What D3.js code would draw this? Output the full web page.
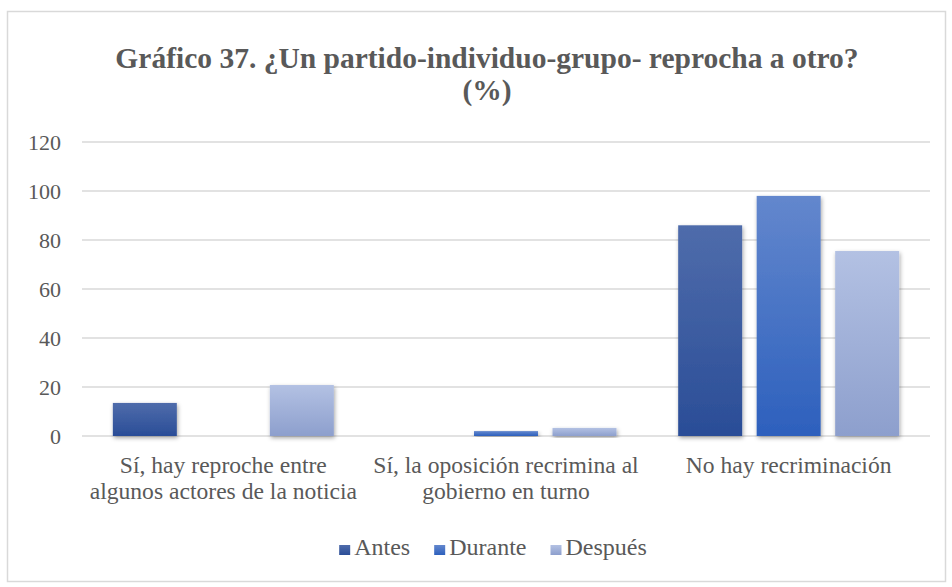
<!DOCTYPE html>
<html>
<head>
<meta charset="utf-8">
<script src="https://cdn.jsdelivr.net/npm/d3@7"></script>
<style>
  html, body { margin: 0; padding: 0; background: #fff; }
  svg { display: block; }
</style>
</head>
<body>
<svg id="chart" width="952" height="587"></svg>
<script>
// Chart data
const categories = [
  "Sí, hay reproche entre\nalgunos actores de la noticia",
  "Sí, la oposición recrimina al\ngobierno en turno",
  "No hay recriminación"
];
const seriesNames = ["Antes", "Durante", "Después"];
const antes = [13.5, 0, 86];
const durante = [0, 2, 98];
const despues = [20.8, 3.3, 75.5];
const yTicks = [0, 20, 40, 60, 80, 100, 120];
const titleLines = ["Gráfico 37. ¿Un partido-individuo-grupo- reprocha a otro?", "(%)"];

const seriesValues = [antes, durante, despues];
const gradientStops = [
  ["#4f6cab", "#2a4d97"],
  ["#6387cd", "#2d60bd"],
  ["#b3c1e3", "#8d9fcd"]
];
const FONT = '"Liberation Serif"';
const TEXT_COLOR = "#595959";

const svg = d3.select("#chart");
const width = 952, height = 587;
const margin = { left: 82, right: 22, top: 142, bottom: 151 };

// Outer frame
svg.append("rect")
  .attr("x", 7.5).attr("y", 11.5)
  .attr("width", 938).attr("height", 570)
  .attr("fill", "#fff").attr("stroke", "#d9d9d9").attr("stroke-width", 1.5);

const defs = svg.append("defs");
seriesNames.forEach((name, i) => {
  const g = defs.append("linearGradient")
    .attr("id", "grad" + i)
    .attr("x1", 0).attr("y1", 0).attr("x2", 0).attr("y2", 1);
  g.append("stop").attr("offset", "0%").attr("stop-color", gradientStops[i][0]);
  g.append("stop").attr("offset", "100%").attr("stop-color", gradientStops[i][1]);
});
const shadow = defs.append("filter").attr("id", "shadow")
  .attr("x", "-20%").attr("y", "-20%").attr("width", "140%").attr("height", "140%");
shadow.append("feDropShadow")
  .attr("dx", 1).attr("dy", 2).attr("stdDeviation", 2)
  .attr("flood-color", "#000").attr("flood-opacity", 0.35);

const x0 = d3.scaleBand()
  .domain(categories)
  .range([margin.left, width - margin.right])
  .paddingInner(0).paddingOuter(0);

const x1 = d3.scaleBand()
  .domain(seriesNames)
  .range([0, x0.bandwidth()])
  .paddingInner(0.185).paddingOuter(0.393);

const y = d3.scaleLinear()
  .domain([0, 120])
  .range([height - margin.bottom, margin.top]);

// Gridlines
svg.append("g")
  .selectAll("line")
  .data(yTicks)
  .join("line")
  .attr("x1", margin.left).attr("x2", width - margin.right)
  .attr("y1", d => y(d)).attr("y2", d => y(d))
  .attr("stroke", "#d9d9d9").attr("stroke-width", 1.5);

// Y axis labels
const yAxis = svg.append("g")
  .attr("transform", `translate(${margin.left},0)`)
  .call(d3.axisLeft(y).tickValues(yTicks).tickSize(0).tickPadding(21));
yAxis.attr("font-family", "Liberation Serif").attr("font-size", 22);
yAxis.select(".domain").remove();
yAxis.selectAll("text")
  .style("font-family", FONT)
  .style("font-size", "22px")
  .style("fill", TEXT_COLOR);

// Bars
const groups = svg.append("g")
  .selectAll("g")
  .data(categories)
  .join("g")
  .attr("transform", d => `translate(${x0(d)},0)`);

groups.selectAll("rect")
  .data((c, ci) => seriesNames.map((s, si) => ({ series: s, si, value: seriesValues[si][ci] })))
  .join("rect")
  .filter(d => d.value > 0)
  .attr("x", d => x1(d.series))
  .attr("width", x1.bandwidth())
  .attr("y", d => y(d.value))
  .attr("height", d => y(0) - y(d.value))
  .attr("fill", d => `url(#grad${d.si})`)
  .attr("filter", "url(#shadow)");

// Category labels
const xLabels = svg.append("g")
  .selectAll("text")
  .data(categories)
  .join("text")
  .attr("text-anchor", "middle")
  .style("font-family", FONT)
  .style("font-size", "23.6px")
  .style("fill", TEXT_COLOR)
  .attr("transform", d => `translate(${x0(d) + x0.bandwidth() / 2},473)`);
xLabels.selectAll("tspan")
  .data(d => d.split("\n"))
  .join("tspan")
  .attr("x", 0)
  .attr("y", (d, i) => i * 26)
  .text(d => d);

// Title
svg.append("g")
  .selectAll("text")
  .data(titleLines)
  .join("text")
  .attr("x", width / 2 + 11)
  .attr("y", (d, i) => 68 + i * 32)
  .attr("text-anchor", "middle")
  .style("font-family", FONT)
  .style("font-size", "29.5px")
  .style("font-weight", "bold")
  .style("fill", TEXT_COLOR)
  .text(d => d);

// Legend
const legend = svg.append("g");
const items = legend.selectAll("g")
  .data(seriesNames)
  .join("g");
items.append("rect")
  .attr("width", 11).attr("height", 10)
  .attr("y", -10)
  .attr("fill", (d, i) => `url(#grad${i})`);
items.append("text")
  .attr("x", 15)
  .style("font-family", FONT)
  .style("font-size", "24px")
  .style("fill", TEXT_COLOR)
  .text(d => d);
const legendGap = 24;
let cx = 0;
items.each(function () {
  const w = this.getBBox().width;
  d3.select(this).attr("data-x", cx);
  cx += w + legendGap;
});
const totalW = cx - legendGap;
const lx = width / 2 + 17 - totalW / 2;
items.attr("transform", function () {
  return `translate(${lx + (+this.getAttribute("data-x"))},555)`;
});
</script>
</body>
</html>
